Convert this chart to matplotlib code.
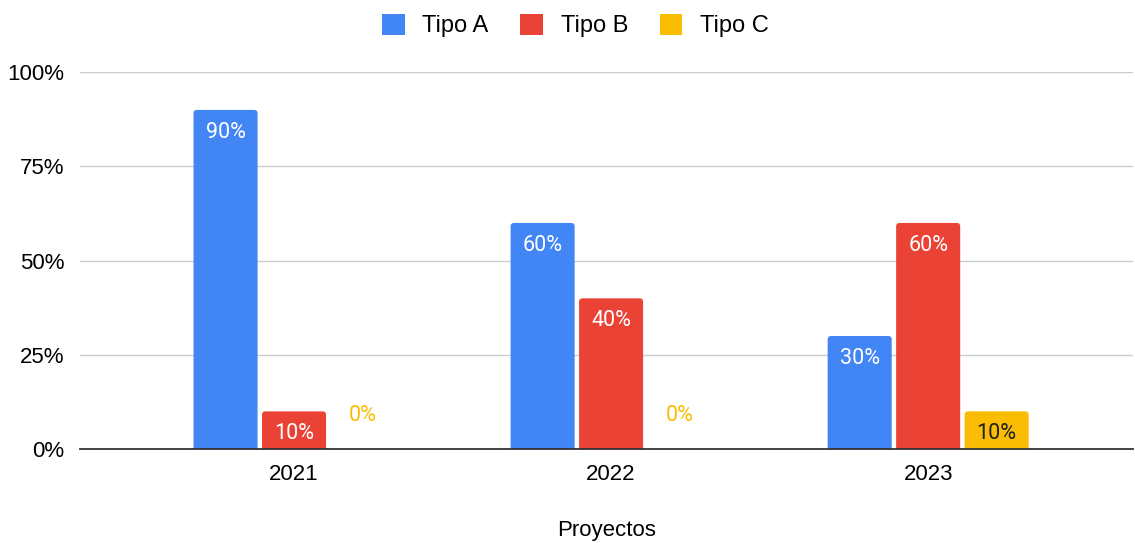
import numpy as np
from matplotlib import pyplot as plt
from matplotlib.patches import FancyBboxPatch, Patch

plt.rcParams['font.family'] = ['Liberation Sans', 'DejaVu Sans']

# Data
years = ["2021", "2022", "2023"]
series_names = ["Tipo A", "Tipo B", "Tipo C"]
tipo_a = [90, 60, 30]
tipo_b = [10, 40, 60]
tipo_c = [0, 0, 10]
y_ticks = [0, 25, 50, 75, 100]

colors = ["#4285F4", "#EA4335", "#FBBC04"]
label_colors = ["white", "white", "#202124"]

fig = plt.figure(figsize=(11.35, 5.43), dpi=100)
ax = fig.add_axes([0.0705, 0.173, 0.928, 0.694])

x = np.arange(len(years))
width = 0.202
step = 0.216
xlim = (-0.675, 2.647)
ylim = (0, 100)

# px per data unit, for rounded corners
px_x = 0.928 * 1135 / (xlim[1] - xlim[0])
px_y = 0.694 * 543 / (ylim[1] - ylim[0])
radius = 3.5 / px_x
aspect = px_x / px_y

handles = []
for i, (vals, name) in enumerate(zip([tipo_a, tipo_b, tipo_c], series_names)):
    pos = x + (i - 1) * step
    for px, v in zip(pos, vals):
        if v > 0:
            patch = FancyBboxPatch((px - width / 2, -2), width, v + 2,
                                   boxstyle=f"round,pad=0,rounding_size={radius}",
                                   mutation_aspect=aspect, facecolor=colors[i],
                                   edgecolor="none", zorder=3)
            ax.add_patch(patch)
        if v == 0:
            ax.text(px, 9, f"{v}%", ha="center", va="center", fontsize=15.5,
                    color=colors[i], family="Roboto", zorder=4)
        else:
            ax.text(px, v - 6, f"{v}%", ha="center", va="center", fontsize=15.5,
                    color=label_colors[i], family="Roboto", zorder=4)
    handles.append(Patch(facecolor=colors[i], edgecolor="none", label=name))

ax.set_xlim(*xlim)
ax.set_ylim(*ylim)
ax.set_xticks(x)
ax.set_xticklabels(years, fontsize=16)
ax.set_yticks(y_ticks)
ax.set_yticklabels([f"{t}%" for t in y_ticks], fontsize=16)
ax.tick_params(length=0, pad=11)
ax.grid(axis="y", color="#cccccc", linewidth=1, zorder=0)
for s in ["top", "right", "left"]:
    ax.spines[s].set_visible(False)
ax.spines["bottom"].set_color("#333333")
ax.spines["bottom"].set_linewidth(1.3)
ax.spines["bottom"].set_zorder(5)

ax.set_xlabel("Proyectos", fontsize=16, labelpad=25)

leg = fig.legend(handles=handles, loc="upper center", bbox_to_anchor=(0.507, 1.013),
                 ncol=3, frameon=False, fontsize=17, handlelength=0.95,
                 handleheight=0.95, columnspacing=1.35, handletextpad=0.75)

fig.savefig("out.png", dpi=100)
